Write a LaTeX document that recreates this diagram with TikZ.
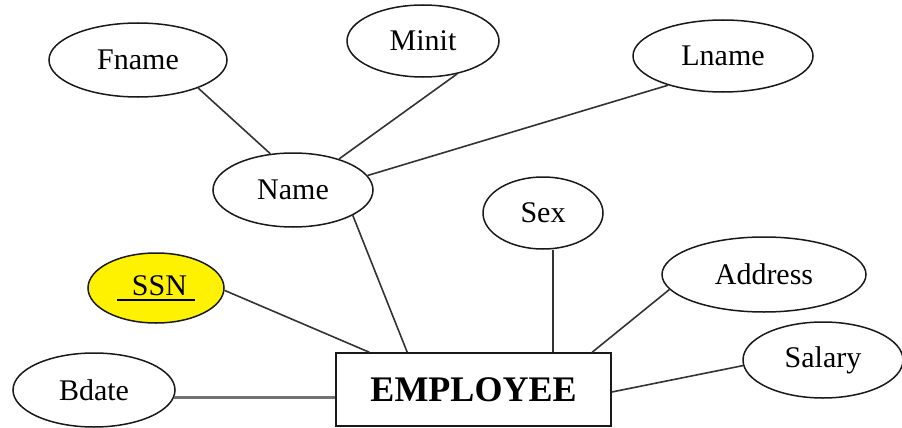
\documentclass[tikz,border=0pt]{standalone}
\usepackage{fontspec}
\setmainfont{Liberation Serif}
\usetikzlibrary{shapes.geometric,calc}
% key attribute: text with a rule set a little below the baseline
\newcommand\keyline[1]{\vtop{\hbox{#1}\kern4pt\hrule height 1.3pt}}
\begin{document}
\begin{tikzpicture}[x=1pt,y=-1pt,
  attr/.style={ellipse, draw=black!90, line width=1.5pt, inner sep=0pt,
               font=\fontsize{30}{36}\selectfont},
  entity/.style={rectangle, draw=black!90, line width=1.6pt, inner sep=0pt,
                 font=\fontsize{36}{42}\selectfont\bfseries},
  link/.style={draw=black!80, line width=1.6pt},
  thicklink/.style={draw=black!55, line width=3pt}]
\useasboundingbox (0,0) rectangle (902,428);

% attribute ellipses
\node[attr, minimum width=178pt, minimum height=74pt] (fname)  at (138,60)    {Fname};
\node[attr, minimum width=152pt, minimum height=72pt] (minit)  at (423,41)    {Minit};
\node[attr, minimum width=180pt, minimum height=72pt] (lname)  at (723,56)    {Lname};
\node[attr, minimum width=160pt, minimum height=74pt] (name)   at (293,190)   {Name};
\node[attr, minimum width=120pt, minimum height=72pt] (sex)    at (543,213)   {Sex};
\node[attr, minimum width=204pt, minimum height=75pt] (addr)   at (764,274.5) {Address};
\node[attr, minimum width=136pt, minimum height=70pt, fill=yellow] (ssn) at (156,288)
     {\keyline{\hspace{15pt}SSN\hspace{8pt}}};
\node[attr, minimum width=160pt, minimum height=76pt] (salary) at (823,360)   {Salary};
\node[attr, minimum width=162pt, minimum height=74pt] (bdate)  at (94,390)    {Bdate};

% entity
\node[entity, minimum width=275pt, minimum height=73pt] (emp) at (473.5,389.5) {EMPLOYEE};

% attachment points on the entity box
\coordinate (eSsn)  at ($(emp.north west)+(34,0)$);
\coordinate (eName) at ($(emp.north west)+(72,0)$);
\coordinate (eSex)  at ($(emp.north west)+(218,0)$);
\coordinate (eAddr) at ($(emp.north west)+(257,0)$);
\coordinate (eSal)  at ($(emp.east)+(0,2.5)$);

% composite attribute parts
\draw[link] (fname.-25)  -- (name.122);
\draw[link] (minit.-44)  -- (name.34);
\draw[link] (lname.208.5) -- (name.11.5);

% attributes of the entity
\draw[link] (name.-23.5) -- (eName);
\draw[link] (ssn.-2)     -- (eSsn);
\draw[link] (eSex)       -- (eSex |- sex.south);
\draw[link] (addr.189)   -- (eAddr);
\draw[link] (salary.184) -- (eSal);
\draw[thicklink] (bdate.-5) -- (bdate.-5 -| emp.west);
\end{tikzpicture}
\end{document}
